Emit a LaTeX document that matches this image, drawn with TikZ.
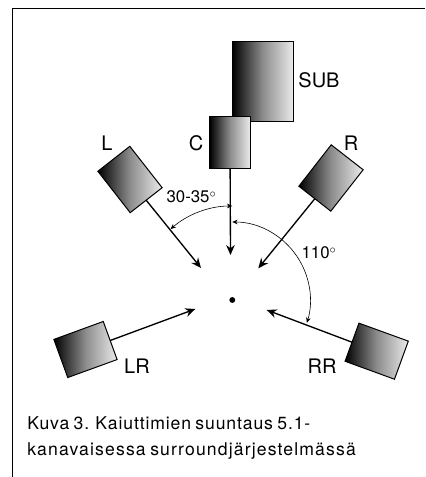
\documentclass[tikz,border=0pt]{standalone}
\usepackage{fontspec}
\setmainfont{TeX Gyre Heros}
\newfontfamily\notefont[LetterSpace=5,WordSpace=0.75]{TeX Gyre Heros}
\usepackage{tikz}
\usetikzlibrary{arrows.meta}

\tikzset{
    spk/.style={inner sep=0pt, rotate=#1, minimum width=30pt, minimum height=39pt},
    spkface/.style={draw, line width=0.75pt, left color=black, right color=black!8, middle color=black!45},
    beam/.style={line width=1pt, -{Stealth[length=7.5pt,width=6.5pt]}},
    sweep/.style={line width=0.45pt, {Stealth[length=4pt,width=3.5pt]}-{Stealth[length=4pt,width=3.5pt]}},
    tag/.style={font=\fontsize{15}{15}\selectfont, inner sep=0pt},
    note/.style={font=\notefont\fontsize{13.2}{14}\selectfont, inner sep=0pt, anchor=base west}
}

\begin{document}
\begin{tikzpicture}[x=0.75pt,y=0.75pt]
    \useasboundingbox (0,0) rectangle (425,477);
    \draw[line width=0.9pt] (12.5,0) -- (12.5,468.5) -- (425,468.5);

    \node[spk=0, minimum width=45.4pt, minimum height=59.3pt] (sub) at (262.75,395.5) {};
    \node[spk=0] (c) at (230,334.5) {};
    \node[spk=38] (l) at (130,297.5) {};
    \node[spk=-38] (r) at (331,299) {};
    \node[spk=110] (lr) at (85.5,127.5) {};
    \node[spk=-110] (rr) at (376.7,125.8) {};
    \foreach \n in {sub,c,l,r,lr,rr}{
        \shade[spkface] (\n.north west) -- (\n.north east) -- (\n.south east) -- (\n.south west) -- cycle;
    }

    \fill (232.3,177) circle (2.2pt) coordinate (seat);

    \coordinate (ctip) at (230.5,222);
    \coordinate (ltip) at (201,209);
    \coordinate (rtip) at (258.3,208.7);
    \coordinate (lrtip) at (195.3,168);
    \coordinate (rrtip) at (266.7,167);
    \draw[beam] (c) -- (ctip);
    \draw[beam] (l.south) -- (ltip);
    \draw[beam] (r.south) -- (rtip);
    \draw[beam] (lr.south) -- (lrtip);
    \draw[beam] (rr.south) -- (rrtip);

    \draw[sweep] (seat) ++(131:94) arc[start angle=131, end angle=90, radius=94];
    \draw[sweep] (seat) ++(90:78) arc[start angle=90, end angle=-17, radius=78];

    \node[tag] at (319,397) {SUB};
    \node[tag] at (196,334) {C};
    \node[tag] at (107,334) {L};
    \node[tag] at (351,334) {R};
    \node[tag] at (137,111) {LR};
    \node[tag] at (322,111) {RR};
    \node[tag, font=\fontsize{12.6}{12}\selectfont] at (191.5,280) {30-35$^\circ$};
    \node[tag, font=\fontsize{12.6}{12}\selectfont] at (319,224) {110$^\circ$};

    \node[note] at (27,47) {Kuva 3. Kaiuttimien suuntaus 5.1-};
    \node[note] at (27,21.3) {\addfontfeature{LetterSpace=6.5}kanavaisessa surroundjärjestelmässä};
\end{tikzpicture}
\end{document}
